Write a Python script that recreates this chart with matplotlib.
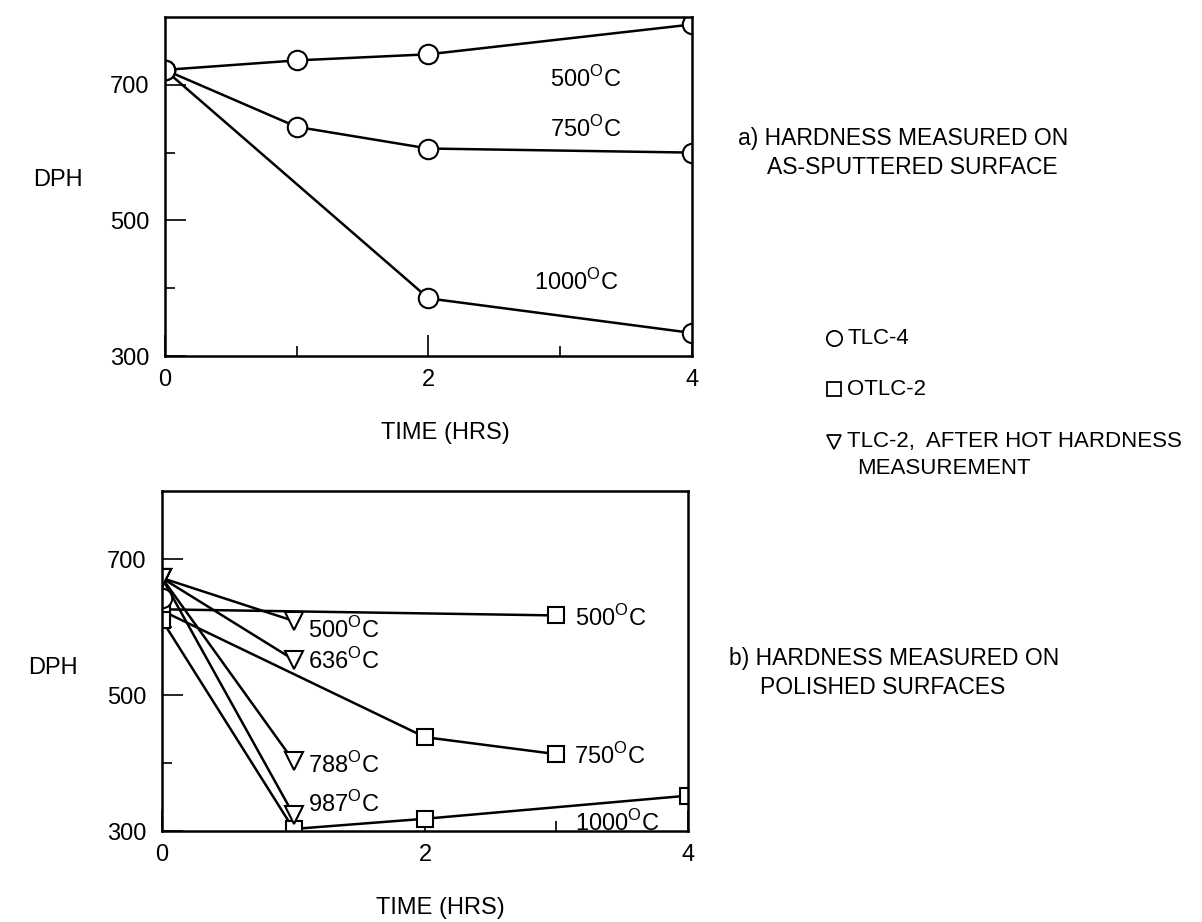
import matplotlib
matplotlib.use('Agg')
import matplotlib.pyplot as plt
from matplotlib.lines import Line2D

plt.rcParams['font.family'] = ['Liberation Sans', 'DejaVu Sans']
plt.rcParams['mathtext.fontset'] = 'custom'
plt.rcParams['mathtext.rm'] = 'Liberation Sans'

# a) as-sputtered surface, TLC-4 (circles)
a_x_500 = [0, 1, 2, 4]
a_y_500 = [722, 736, 745, 789]
a_x_750 = [0, 1, 2, 4]
a_y_750 = [722, 638, 606, 600]
a_x_1000 = [0, 2, 4]
a_y_1000 = [722, 385, 334]
a_labels = ['500', '750', '1000']
a_label_x = [2.92, 2.92, 2.80]
a_label_y = [709, 635, 409]

# b) polished surfaces, OTLC-2 (squares)
b_sq_x_500 = [0, 3]
b_sq_y_500 = [626, 617]
b_sq_x_750 = [0, 2, 3]
b_sq_y_750 = [624, 438, 413]
b_sq_x_1000 = [0, 1, 2, 4]
b_sq_y_1000 = [610, 303, 318, 352]
# TLC-2 after hot hardness (triangles), start value and 1 h values
b_tri_start = 672
b_tri_temps = ['500', '636', '788', '987']
b_tri_y = [609, 552, 403, 324]
b_circle_start = 642
b_sq_labels = ['500', '750', '1000']
b_sq_label_x = [3.14, 3.13, 3.14]
b_sq_label_y = [614, 411, 312]
b_tri_label_y = [595, 550, 397, 340]

W, H = 1202, 922
LW = 1.8
FS = 17


def deg(t):
    return t + r'$^{\mathrm{O}}$C'


def style(ax):
    ax.set_xlim(0, 4)
    ax.set_ylim(300, 800)
    ax.set_xticks([0, 2, 4])
    ax.set_xticks([1, 3], minor=True)
    ax.set_yticks([300, 500, 700])
    ax.set_yticks([400, 600], minor=True)
    ax.tick_params(which='both', direction='in', top=False, right=False, width=1.2)
    ax.tick_params(which='major', length=15, labelsize=17)
    ax.tick_params(which='minor', length=7)
    ax.tick_params(axis='y', pad=11)
    ax.tick_params(axis='x', pad=9)
    for s in ax.spines.values():
        s.set_linewidth(1.8)


fig = plt.figure(figsize=(W / 100, H / 100), dpi=100)
ax1 = fig.add_axes([165 / W, 1 - 356 / H, 527 / W, 339 / H])
ax2 = fig.add_axes([162 / W, 1 - 831 / H, 526 / W, 340 / H])

mk = dict(color='black', lw=LW, mfc='white', mec='black', mew=1.5)

ax1.plot(a_x_500, a_y_500, marker='o', ms=14, **mk)
ax1.plot(a_x_750, a_y_750, marker='o', ms=14, **mk)
ax1.plot(a_x_1000, a_y_1000, marker='o', ms=14, **mk)
for t, x, y in zip(a_labels, a_label_x, a_label_y):
    ax1.text(x, y, deg(t), fontsize=FS, ha='left', va='center')
style(ax1)

for y in b_tri_y:
    ax2.plot([0, 1], [b_tri_start, y], color='black', lw=LW)
ax2.plot(b_sq_x_500, b_sq_y_500, marker='s', ms=11, **mk)
ax2.plot(b_sq_x_750, b_sq_y_750, marker='s', ms=11, **mk)
ax2.plot(b_sq_x_1000, b_sq_y_1000, marker='s', ms=11, **mk)
ax2.plot([0] * len(b_tri_y), [b_tri_start] * len(b_tri_y), ls='none', marker='v', ms=13,
         mfc='white', mec='black', mew=1.5)
ax2.plot([1] * len(b_tri_y), b_tri_y, ls='none', marker='v', ms=13,
         mfc='white', mec='black', mew=1.5)
ax2.plot([0], [b_circle_start], ls='none', marker='o', ms=14, mfc='white', mec='black', mew=1.5)
for t, y in zip(b_tri_temps, b_tri_label_y):
    ax2.text(1.11, y, deg(t), fontsize=FS, ha='left', va='center')
for t, x, y in zip(b_sq_labels, b_sq_label_x, b_sq_label_y):
    ax2.text(x, y, deg(t), fontsize=FS, ha='left', va='center')
style(ax2)


def ftext(x, y, s, **kw):
    kw.setdefault('fontsize', FS)
    kw.setdefault('va', 'center')
    fig.text(x / W, 1 - y / H, s, **kw)


ftext(33, 180, 'DPH')
ftext(28, 668, 'DPH')
ftext(445, 433, 'TIME (HRS)', ha='center')
ftext(440, 908, 'TIME (HRS)', ha='center')

ftext(738, 138, 'a) HARDNESS MEASURED ON', fontsize=16.5)
ftext(767, 168, 'AS-SPUTTERED SURFACE', fontsize=16.5)
ftext(729, 658, 'b) HARDNESS MEASURED ON', fontsize=16.5)
ftext(760, 688, 'POLISHED SURFACES', fontsize=16.5)

legend_items = [('o', 338, 'TLC-4', 11), ('s', 389, 'OTLC-2', 10), ('v', 442, 'TLC-2,  AFTER HOT HARDNESS', 10)]
for m, y, s, ms in legend_items:
    fig.add_artist(Line2D([834 / W], [1 - y / H], marker=m, ms=ms, ls='none',
                          mfc='white', mec='black', mew=1.3, transform=fig.transFigure))
    ftext(847, y, s, fontsize=16)
ftext(857, 468, 'MEASUREMENT', fontsize=16)

fig.savefig('out.png', dpi=100)
